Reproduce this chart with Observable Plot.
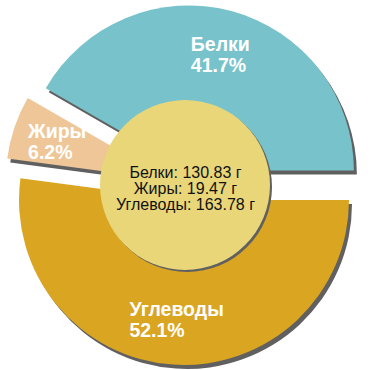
<!DOCTYPE html>
<html><head><meta charset="utf-8">
<script src="https://cdn.jsdelivr.net/npm/d3@7"></script>
<script src="https://cdn.jsdelivr.net/npm/@observablehq/plot@0.6"></script>
<style>body{margin:0;background:#fff} svg{display:block}</style>
</head><body><div id="chart"></div>
<script>
const categories = ["Белки", "Жиры", "Углеводы"];
const grams = [130.83, 19.47, 163.78];
const percents = [41.7, 6.2, 52.1];
const colors = ["#78c3cb", "#eec697", "#daa520"];
const unit = "г";

const R = 165, explode = 15, innerR = 85, labelR = 120;
const data = categories.map((c, i) => ({category: c, grams: grams[i], percent: percents[i], color: colors[i]}));
const total = d3.sum(percents);
let acc = 0;
for (const d of data) {
  d.a0 = acc; acc += d.percent / total * 2 * Math.PI; d.a1 = acc;
  d.mid = (d.a0 + d.a1) / 2;
  d.cx = explode * Math.cos(d.mid); d.cy = explode * Math.sin(d.mid);
  d.lx = d.cx + labelR * Math.cos(d.mid); d.ly = d.cy + labelR * Math.sin(d.mid);
}

function slices(index, scales) {
  const g = d3.create("svg:g");
  const k = scales.x(1) - scales.x(0);
  const arc = d3.arc().innerRadius(0).outerRadius(R * k);
  const draw = (d, dx, dy, fill) => g.append("path")
    .attr("transform", `translate(${scales.x(d.cx) + dx},${scales.y(d.cy) + dy})`)
    .attr("d", arc({startAngle: Math.PI / 2 - d.a0, endAngle: Math.PI / 2 - d.a1}))
    .attr("fill", fill);
  for (const d of data) draw(d, 3, 4, "#606060");
  for (const d of data) draw(d, 0, 0, d.color);
  g.append("circle").attr("cx", scales.x(0) + 2).attr("cy", scales.y(0) + 2).attr("r", innerR * k).attr("fill", "#606060");
  g.append("circle").attr("cx", scales.x(0)).attr("cy", scales.y(0)).attr("r", innerR * k).attr("fill", "#e8d679");
  return g.node();
}

const centerText = data.map(d => `${d.category}: ${d.grams} ${unit}`).join("\n");

const plot = Plot.plot({
  width: 370, height: 370,
  marginTop: 0, marginBottom: 0, marginLeft: 0, marginRight: 0,
  x: {domain: [-185, 185], axis: null},
  y: {domain: [-185, 185], axis: null},
  style: {background: "#fff", fontFamily: "'Liberation Sans', Arial, sans-serif"},
  marks: [
    slices,
    Plot.text(data, {x: "lx", y: "ly", text: d => `${d.category}\n${d.percent}%`,
      fill: "#fff", fontWeight: "bold", fontSize: 19.5, textAnchor: "start", lineAnchor: "middle", lineHeight: 1.08}),
    Plot.text([centerText], {x: [0], y: [0], dy: 3, text: d => d, fill: "#111", fontSize: 16,
      textAnchor: "middle", lineAnchor: "middle", lineHeight: 1.0})
  ]
});
document.getElementById("chart").append(plot);
const groups = plot.querySelectorAll('g[aria-label="text"]');
if (groups.length) {
  groups[0].querySelectorAll("text").forEach(t => {
    const w = t.getBBox().width;
    t.setAttribute("transform", (t.getAttribute("transform") || "") + ` translate(${-w / 2},0)`);
  });
}
</script></body></html>
